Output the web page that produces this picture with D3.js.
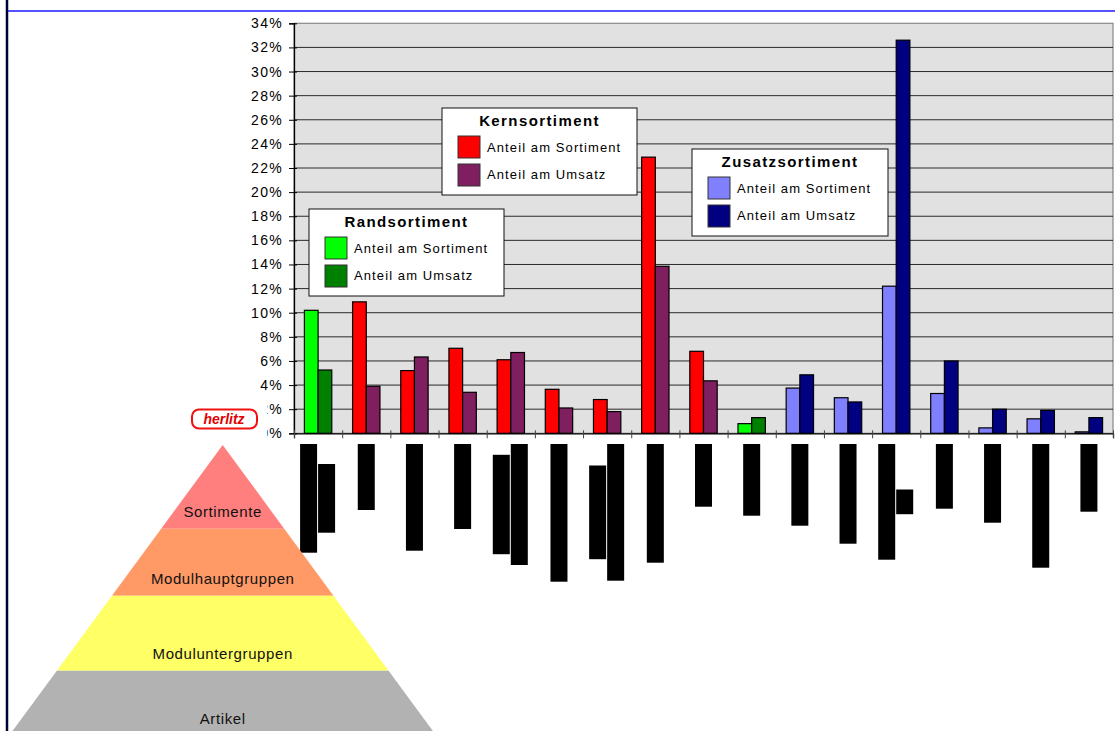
<!DOCTYPE html>
<html lang="de">
<head>
<meta charset="UTF-8">
<title>Sortimentsanteile</title>
<script src="https://d3js.org/d3.v7.min.js"></script>
<style>
body {margin:0; background:#fff;}
text {font-family: Arial, "Liberation Sans", sans-serif;}
</style>
</head>
<body>
<div id="chart"></div>
<script>
// Anteile je Modulhauptgruppe (in %)
var groups = ["Rand","Kern","Kern","Kern","Kern","Kern","Kern","Kern","Kern","Rand",
              "Zusatz","Zusatz","Zusatz","Zusatz","Zusatz","Zusatz","Zusatz"];
var anteilSortiment = [10.2,10.9,5.2,7.05,6.1,3.65,2.8,22.9,6.8,0.8,3.75,2.95,12.2,3.3,0.45,1.2,0.12];
var anteilUmsatz    = [5.25,3.9,6.33,3.4,6.7,2.1,1.8,13.85,4.35,1.3,4.85,2.6,32.6,6.0,2.0,1.9,1.3];
// geschwärzte Achsenbeschriftungen: Länge je Zeile
var hiddenLabel = [[108.7,68.7],[66],[106.7],[85],[99.4,121],[137.7],[93.7,136.7],[118.7],[62.7],
                   [71.7],[81.7],[99.7],[115.7,24.7],[64.7],[78.7],[123.7],[67.7]];
var yTicks = [0,2,4,6,8,10,12,14,16,18,20,22,24,26,28,30,32,34];
var legendTitles = ["Randsortiment","Kernsortiment","Zusatzsortiment"];
var legendKeys = ["Rand","Kern","Zusatz"];
var seriesLabels = ["Anteil am Sortiment","Anteil am Umsatz"];
var colors = {Rand:["#00FF00","#008000"], Kern:["#FF0000","#7F1F5F"], Zusatz:["#8080FF","#000080"]};
var layers = ["Sortimente","Modulhauptgruppen","Moduluntergruppen","Artikel"];
var layerColors = ["#FF7F7F","#FF9966","#FFFF66","#B2B2B2"];

var W = 1115, H = 731;
var svg = d3.select("#chart").append("svg").attr("width", W).attr("height", H);

// Rahmenlinien
svg.append("line").attr("x1", 7).attr("x2", 7).attr("y1", 0).attr("y2", H)
    .attr("stroke", "#000033").attr("stroke-width", 2.5);
svg.append("line").attr("x1", 8).attr("x2", W).attr("y1", 11).attr("y2", 11)
    .attr("stroke", "#1a1aff").attr("stroke-width", 1.5);

// Skalen
var plotL = 294, plotR = 1113, plotT = 23.3, plotB = 433.3;
var x0 = d3.scaleBand().domain(d3.range(groups.length)).range([plotL, plotR]).paddingInner(0);
var x1 = d3.scaleBand().domain([0,1]).range([0, x0.bandwidth()]).paddingInner(0).paddingOuter(0.76);
var y = d3.scaleLinear().domain([0, 34]).range([plotB, plotT]);

// Diagrammfläche
svg.append("rect").attr("x", plotL).attr("y", plotT).attr("width", plotR - plotL).attr("height", plotB - plotT)
    .attr("fill", "#E1E1E1").attr("stroke", "#888").attr("stroke-width", 1.2);

svg.append("g").selectAll("line").data(yTicks.filter(function(d){return d > 0 && d < 34;})).enter().append("line")
    .attr("x1", plotL).attr("x2", plotR)
    .attr("y1", function(d){return y(d);}).attr("y2", function(d){return y(d);})
    .attr("stroke", "#2a2a2a").attr("stroke-width", 1);

// Balken
var bars = svg.append("g");
groups.forEach(function(g, i) {
    var vals = [anteilSortiment[i], anteilUmsatz[i]];
    bars.selectAll(null).data(vals).enter().append("rect")
        .attr("x", function(d, j){return x0(i) + x1(j);})
        .attr("y", function(d){return y(d);})
        .attr("width", x1.bandwidth())
        .attr("height", function(d){return y(0) - y(d);})
        .attr("fill", function(d, j){return colors[g][j];})
        .attr("stroke", "#000").attr("stroke-width", 1.2);
});

// Achsen
var yAxis = d3.axisLeft(y).tickValues(yTicks).tickSize(5).tickFormat(function(d){return d + "%";});
var ya = svg.append("g").attr("transform", "translate(" + plotL + ",0)").call(yAxis);
ya.select(".domain").attr("stroke", "#000").attr("stroke-width", 1.3);
ya.selectAll(".tick line").attr("stroke", "#000").attr("x2", 3).attr("x1", -5);
ya.selectAll(".tick text").attr("x", -11).attr("font-size", "14px").attr("letter-spacing", "1.3px")
    .attr("font-family", "Arial, 'Liberation Sans', sans-serif").attr("fill", "#000");

var xAxis = d3.axisBottom(d3.scaleLinear().domain([0, groups.length]).range([plotL, plotR]))
    .tickValues(d3.range(groups.length + 1)).tickSize(5).tickFormat("");
var xa = svg.append("g").attr("transform", "translate(0," + plotB + ")").call(xAxis);
xa.select(".domain").attr("stroke", "#000").attr("stroke-width", 1.3);
xa.selectAll(".tick line").attr("stroke", "#444").attr("y1", -3);

// geschwärzte Kategorienamen
var lbl = svg.append("g");
hiddenLabel.forEach(function(lines, i) {
    var c = x0(i) + x0.bandwidth() / 2;
    var mid = 444 + d3.max(lines) / 2;
    lbl.selectAll(null).data(lines).enter().append("rect")
        .attr("x", function(d, j){return lines.length === 1 ? c - 8.5 : (j === 0 ? c - 18 : c);})
        .attr("y", function(d){return mid - d / 2;})
        .attr("width", 17)
        .attr("height", function(d){return d;})
        .attr("fill", "#000");
});

// Logo
var logo = svg.append("g");
logo.append("rect").attr("x", 186).attr("y", 400).attr("width", 81).attr("height", 40).attr("fill", "#fff");
logo.append("rect").attr("x", 192).attr("y", 409.5).attr("width", 65).attr("height", 19).attr("rx", 7)
    .attr("fill", "#fff").attr("stroke", "#F01010").attr("stroke-width", 2);
logo.append("text").attr("x", 224).attr("y", 424).attr("text-anchor", "middle")
    .attr("font-family", "'Liberation Serif', serif").attr("font-style", "italic").attr("font-weight", "bold")
    .attr("font-size", "14px").attr("fill", "#E00000").text("herlitz");

// Legenden
var legendPos = [[309,209,195,87],[442,108,195,87],[692,149,196,87]];
legendKeys.forEach(function(k, n) {
    var p = legendPos[n];
    var lg = svg.append("g").attr("transform", "translate(" + p[0] + "," + p[1] + ")");
    lg.append("rect").attr("width", p[2]).attr("height", p[3]).attr("fill", "#fff")
        .attr("stroke", "#111").attr("stroke-width", 1);
    lg.append("text").attr("x", p[2] / 2).attr("y", 18).attr("text-anchor", "middle")
        .attr("font-size", "15px").attr("font-weight", "bold").attr("letter-spacing", "1.4px")
        .attr("fill", "#000").text(legendTitles[n]);
    seriesLabels.forEach(function(s, j) {
        lg.append("rect").attr("x", 16).attr("y", 28 + j * 28).attr("width", 22).attr("height", 22)
            .attr("fill", colors[k][j]).attr("stroke", "#333").attr("stroke-width", 1);
        lg.append("text").attr("x", 45).attr("y", 44 + j * 27).attr("font-size", "13px")
            .attr("letter-spacing", "1.1px").attr("fill", "#000").text(s);
    });
});

// Pyramide
var apexX = 222.7, apexY = 445;
var half = d3.scaleLinear().domain([apexY, apexY + 100]).range([0, 73.5]);
var bounds = [445, 528.7, 595.7, 670.7, 736];
var pyr = svg.append("g");
layers.forEach(function(name, i) {
    var t = bounds[i], b = bounds[i + 1];
    var pts = [[apexX - half(t), t], [apexX + half(t), t], [apexX + half(b), b], [apexX - half(b), b]];
    pyr.append("path").attr("d", d3.line()(pts) + "Z").attr("fill", layerColors[i]);
    pyr.append("text").attr("x", apexX).attr("y", b - 12).attr("text-anchor", "middle")
        .attr("font-size", "15px").attr("letter-spacing", "0.6px").attr("fill", "#111").text(name);
});
</script>
</body>
</html>
